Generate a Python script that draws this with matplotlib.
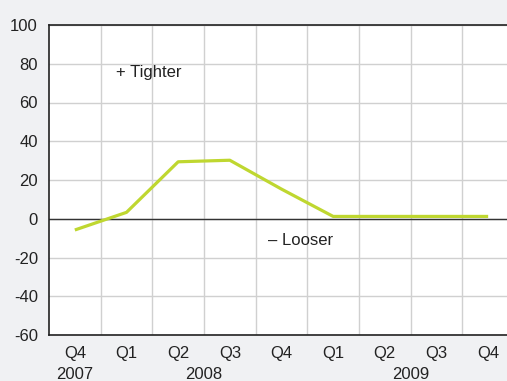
import matplotlib
matplotlib.use('Agg')
import matplotlib.pyplot as plt
import numpy as np

quarters = ['Q4', 'Q1', 'Q2', 'Q3', 'Q4', 'Q1', 'Q2', 'Q3', 'Q4']
years = ['2007', '2008', '2009']
year_pos = [0, 2.5, 6.5]
values = [-5.8, 3.3, 29.4, 30.2, 15.3, 1.2, 1.2, 1.2, 1.2]

plt.rcParams['font.family'] = ['Liberation Sans', 'DejaVu Sans']
plt.rcParams['axes.unicode_minus'] = False

fig = plt.figure(figsize=(5.07, 3.81), dpi=100)
fig.patch.set_facecolor('#f0f1f3')
# plot area runs past the right edge of the picture, like the original
ax = fig.add_axes([49 / 507, 1 - 335 / 381, 465 / 507, 310 / 381])
ax.set_facecolor('white')

x = np.arange(len(quarters))
ax.plot(x, values, color='#bfd730', linewidth=2.3, solid_capstyle='butt', zorder=3)
ax.axhline(0, color='#333333', linewidth=1.0, zorder=2)

ax.set_xlim(-0.5, len(quarters) - 0.5)
ax.set_ylim(-60, 100)
ax.set_yticks(np.arange(-60, 101, 20))
ax.set_xticks(x, quarters)
ax.set_xticks(np.arange(0.5, len(quarters) - 0.5, 1), minor=True)
ax.grid(True, which='minor', axis='x', color='#d0d0d0', linewidth=1.0)
ax.grid(True, which='major', axis='y', color='#d0d0d0', linewidth=1.0)
ax.set_axisbelow(True)
ax.tick_params(axis='both', which='both', length=0, labelsize=12, labelcolor='#222222')
ax.tick_params(axis='y', pad=8)
ax.tick_params(axis='x', pad=8)

for side in ['left', 'bottom', 'top']:
    ax.spines[side].set_color('#222222')
    ax.spines[side].set_linewidth(1.2)
ax.spines['right'].set_visible(False)

for yr, pos in zip(years, year_pos):
    ax.text(pos, -0.126, yr, transform=ax.get_xaxis_transform(), ha='center', va='center',
            fontsize=12, color='#222222')

ax.text(0.8, 75.7, '+ Tighter', ha='left', va='center', fontsize=12, color='#222222')
ax.text(3.73, -11, '\u2013 Looser', ha='left', va='center', fontsize=12, color='#222222')

plt.savefig('out.png', dpi=100, facecolor=fig.get_facecolor())
